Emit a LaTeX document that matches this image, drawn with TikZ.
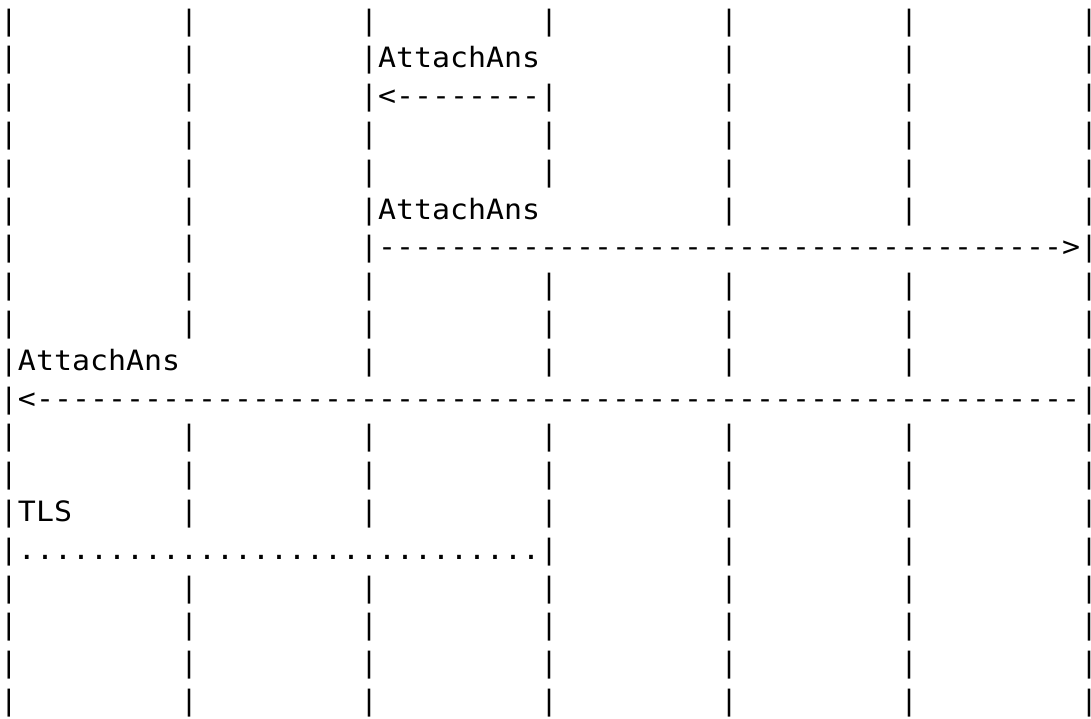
\documentclass[tikz,border=0pt]{standalone}
\usepackage{fontspec}
\setmonofont{DejaVu Sans Mono}[FakeStretch=1.068]
\usepackage{tikz}

\begin{document}
\begin{tikzpicture}[
  x=9pt, y=-18.9pt,
  every node/.style={anchor=base west, inner sep=0pt, outer sep=0pt,
    font=\ttfamily\fontsize{14}{14}\selectfont},
  lifeline/.style={anchor=base, text=black},
  msgtext/.style={text=black}
]
\useasboundingbox (0pt,15pt) rectangle (545.5pt,-344pt);

\foreach \r/\cols in {0/{0,10,...,60}, 1/{0,10,20,40,50,60}, 2/{0,10,...,60},
    3/{0,10,...,60}, 4/{0,10,...,60}, 5/{0,10,20,40,50,60}, 6/{0,10,20,60},
    7/{0,10,...,60}, 8/{0,10,...,60}, 9/{0,20,30,40,50,60}, 10/{0,60},
    11/{0,10,...,60}, 12/{0,10,...,60}, 13/{0,10,...,60}, 14/{0,30,40,50,60},
    15/{0,10,...,60}, 16/{0,10,...,60}, 17/{0,10,...,60}, 18/{0,10,...,60}}
  \foreach \c in \cols
    \node[lifeline] (bar-\r-\c) at (\c+0.5,\r) {\makebox[0pt]{|}};

\node[msgtext] (ans1) at (21,1) {AttachAns};
\node[msgtext] (msg1) at (21,2) {<--------};
\node[msgtext] (ans2) at (21,5) {AttachAns};
\node[msgtext] (msg2) at (21,6) {-------------------------------------->};
\node[msgtext] (ans3) at (1,9) {AttachAns};
\node[msgtext] (msg3) at (1,10) {<----------------------------------------------------------};
\node[msgtext] (tls) at (1,13) {TLS};
\node[msgtext] (tlsdots) at (1,14) {.............................};

\end{tikzpicture}
\end{document}
